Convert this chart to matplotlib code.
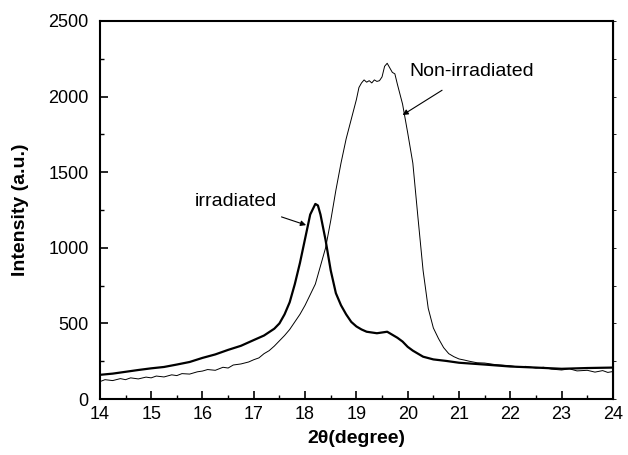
import matplotlib.pyplot as plt
from matplotlib.ticker import MultipleLocator

# XRD-кривые: облучённый и необлучённый образцы
irr_x = [14.0, 14.25, 14.5, 14.75, 15.0, 15.25, 15.5, 15.75, 16.0, 16.25, 16.5, 16.75,
         17.0, 17.2, 17.4, 17.5, 17.6, 17.7, 17.8, 17.9, 18.0, 18.1, 18.2, 18.25, 18.3,
         18.4, 18.5, 18.6, 18.7, 18.8, 18.9, 19.0, 19.1, 19.2, 19.3, 19.4, 19.5, 19.6,
         19.7, 19.8, 19.9, 20.0, 20.1, 20.2, 20.3, 20.5, 20.75, 21.0, 21.5, 22.0, 22.5,
         23.0, 23.5, 24.0]
irr_y = [160, 168, 180, 192, 203, 212, 228, 245, 272, 295, 325, 352,
         390, 420, 465, 500, 560, 640, 760, 900, 1060, 1220, 1290, 1280, 1220,
         1050, 850, 700, 620, 560, 510, 480, 460, 445, 440, 435, 440, 445,
         425, 405, 380, 345, 320, 300, 280, 262, 252, 240, 228, 215, 208,
         200, 205, 208]

non_x = [14.0, 14.1, 14.25, 14.4, 14.5, 14.6, 14.75, 14.9, 15.0, 15.1, 15.25, 15.4,
         15.5, 15.6, 15.75, 15.9, 16.0, 16.1, 16.25, 16.4, 16.5, 16.6, 16.75, 16.9,
         17.0, 17.1, 17.2, 17.3, 17.4, 17.5, 17.6, 17.7, 17.8, 17.9, 18.0, 18.1, 18.2,
         18.3, 18.4, 18.5, 18.6, 18.65, 18.7, 18.8, 18.9, 19.0, 19.05, 19.1, 19.15, 19.2,
         19.25, 19.3, 19.35, 19.4, 19.45, 19.5, 19.55, 19.6, 19.65, 19.7, 19.75, 19.8,
         19.9, 20.0, 20.1, 20.2, 20.3, 20.4, 20.5, 20.6, 20.7, 20.8, 20.9, 21.0, 21.1,
         21.2, 21.35, 21.5, 21.7, 21.85, 22.0, 22.15, 22.3, 22.5, 22.65, 22.8, 23.0,
         23.15, 23.3, 23.5, 23.65, 23.8, 23.9, 24.0]
non_y = [115, 128, 122, 135, 128, 140, 133, 145, 140, 152, 146, 160,
         155, 168, 165, 180, 185, 195, 190, 210, 205, 225, 232, 245,
         260, 272, 300, 320, 350, 385, 420, 460, 510, 560, 620, 690, 760,
         880, 1000, 1180, 1380, 1470, 1560, 1720, 1850, 1980, 2060, 2090, 2110, 2095,
         2105, 2090, 2110, 2100, 2105, 2130, 2200, 2220, 2190, 2160, 2150, 2080,
         1950, 1760, 1560, 1200, 850, 600, 470, 400, 340, 300, 280, 265, 258,
         250, 240, 238, 228, 224, 220, 212, 216, 205, 210, 198, 192,
         200, 186, 190, 178, 188, 176, 182]

plt.rcParams['font.family'] = ['Liberation Sans', 'DejaVu Sans']

fig = plt.figure(figsize=(6.28, 4.55), dpi=100)
ax = fig.add_axes([0.159, 0.123, 0.817, 0.831])
ax.plot(irr_x, irr_y, color='black', lw=1.6)
ax.plot(non_x, non_y, color='black', lw=0.7)

ax.set_xlim(14, 24)
ax.set_ylim(0, 2500)
ax.xaxis.set_major_locator(MultipleLocator(1))
ax.xaxis.set_minor_locator(MultipleLocator(0.5))
ax.yaxis.set_major_locator(MultipleLocator(500))
ax.yaxis.set_minor_locator(MultipleLocator(250))
ax.tick_params(which='major', direction='in', length=6, width=1.2, labelsize=13)
ax.tick_params(which='minor', direction='in', length=3, width=1.0)
ax.tick_params(axis='x', which='major', pad=5)
ax.tick_params(axis='y', which='major', pad=8)
# маленькие внешние засечки на правой оси
rax = ax.secondary_yaxis('right')
rax.yaxis.set_major_locator(MultipleLocator(250))
rax.tick_params(direction='out', length=2, width=0.6, labelright=False)
for s in ax.spines.values():
    s.set_linewidth(1.5)

ax.set_xlabel('2θ(degree)', fontsize=14, fontweight='bold', labelpad=5)
ax.set_ylabel('Intensity (a.u.)', fontsize=14, fontweight='bold', labelpad=14)

ax.annotate('irradiated', xy=(18.02, 1150), xytext=(16.65, 1305),
            fontsize=14, ha='center', va='center',
            arrowprops=dict(arrowstyle='-|>', color='black', lw=0.8,
                            shrinkA=9, shrinkB=0, mutation_scale=8))
ax.annotate('Non-irradiated', xy=(19.9, 1878), xytext=(21.25, 2165),
            fontsize=14, ha='center', va='center',
            arrowprops=dict(arrowstyle='-|>', color='black', lw=0.8,
                            shrinkA=10, shrinkB=0, mutation_scale=8))

fig.savefig('out.png', dpi=100)
